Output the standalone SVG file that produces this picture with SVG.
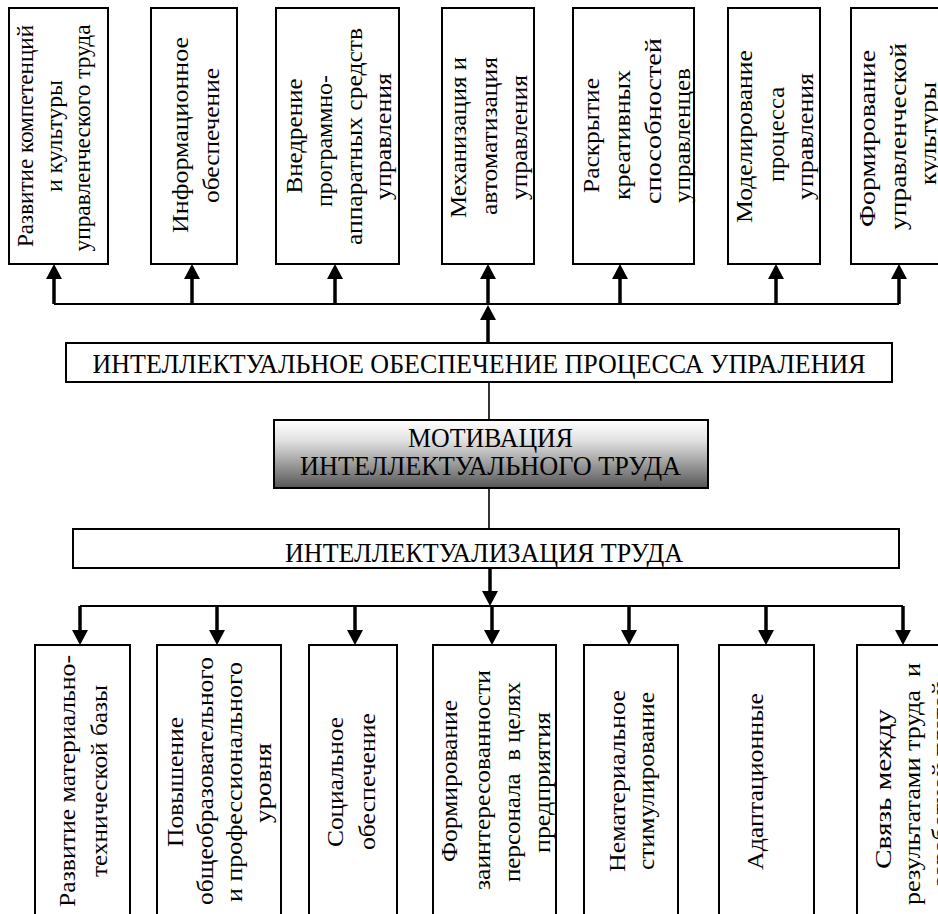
<svg xmlns="http://www.w3.org/2000/svg" width="938" height="914" viewBox="0 0 938 914">
  <style>
    .box { fill: #fff; stroke: #000; stroke-width: 2; }
    .t { font-family: 'Liberation Serif', 'Times New Roman', 'DejaVu Serif', serif; font-size: 24px; fill: #000; text-anchor: middle; }
    .h { font-size: 27px; }
    .bus { stroke: #000; stroke-width: 2; fill: none; }
    .shaft { stroke: #000; stroke-width: 3.5; fill: none; marker-end: url(#arr); }
    .thin { stroke: #000; stroke-width: 1.6; fill: none; }
  </style>
  <defs>
    <marker id="arr" viewBox="0 0 15 16" refX="5" refY="8" markerWidth="15" markerHeight="16" markerUnits="userSpaceOnUse" orient="auto">
      <path d="M0,0 L15,8 L0,16 z" fill="#000"/>
    </marker>
    <linearGradient id="shade" x1="0" y1="0" x2="0" y2="1">
      <stop offset="0" stop-color="#ffffff"/>
      <stop offset="0.3" stop-color="#e2e2e2"/>
      <stop offset="1" stop-color="#555555"/>
    </linearGradient>
  </defs>

  <!-- connectors -->
  <g id="connectors">
    <line class="bus" x1="54" y1="304" x2="899" y2="304"/>
    <line class="shaft" x1="54" y1="304" x2="54" y2="274"/>
    <line class="shaft" x1="192" y1="304" x2="192" y2="274"/>
    <line class="shaft" x1="335" y1="304" x2="335" y2="274"/>
    <line class="shaft" x1="488" y1="304" x2="488" y2="274"/>
    <line class="shaft" x1="620" y1="304" x2="620" y2="274"/>
    <line class="shaft" x1="776" y1="304" x2="776" y2="274"/>
    <line class="shaft" x1="899" y1="304" x2="899" y2="274"/>
    <line class="shaft" x1="488" y1="343" x2="488" y2="315"/>
    <line class="thin" x1="489" y1="382" x2="489" y2="420"/>
    <line class="thin" x1="489" y1="488" x2="489" y2="529"/>
    <line class="shaft" x1="490" y1="568" x2="490" y2="596"/>
    <line class="bus" x1="80" y1="606" x2="903" y2="606"/>
    <line class="shaft" x1="80" y1="606" x2="80" y2="635"/>
    <line class="shaft" x1="217" y1="606" x2="217" y2="635"/>
    <line class="shaft" x1="355" y1="606" x2="355" y2="635"/>
    <line class="shaft" x1="492" y1="606" x2="492" y2="635"/>
    <line class="shaft" x1="629" y1="606" x2="629" y2="635"/>
    <line class="shaft" x1="766" y1="606" x2="766" y2="635"/>
    <line class="shaft" x1="903" y1="606" x2="903" y2="635"/>
  </g>

  <!-- upper row: labels read bottom to top -->
  <g id="top1">
    <rect class="box" x="9" y="8" width="99" height="256"/>
    <text class="t" transform="translate(33,136) rotate(-90)" textLength="222" lengthAdjust="spacingAndGlyphs">Развитие компетенций</text>
    <text class="t" transform="translate(62,136) rotate(-90)" textLength="112" lengthAdjust="spacingAndGlyphs">и культуры</text>
    <text class="t" transform="translate(90,138) rotate(-90)" textLength="227" lengthAdjust="spacingAndGlyphs">управленческого труда</text>
  </g>
  <g id="top2">
    <rect class="box" x="151" y="8" width="86" height="256"/>
    <text class="t" transform="translate(188,135) rotate(-90)" textLength="196" lengthAdjust="spacingAndGlyphs">Информационное</text>
    <text class="t" transform="translate(219,135.5) rotate(-90)" textLength="135" lengthAdjust="spacingAndGlyphs">обеспечение</text>
  </g>
  <g id="top3">
    <rect class="box" x="276" y="8" width="123" height="256"/>
    <text class="t" transform="translate(302,136) rotate(-90)" textLength="115" lengthAdjust="spacingAndGlyphs">Внедрение</text>
    <text class="t" transform="translate(332,141) rotate(-90)" textLength="132" lengthAdjust="spacingAndGlyphs">программно-</text>
    <text class="t" transform="translate(362,136.5) rotate(-90)" textLength="217" lengthAdjust="spacingAndGlyphs">аппаратных средств</text>
    <text class="t" transform="translate(391,136.5) rotate(-90)" textLength="127" lengthAdjust="spacingAndGlyphs">управления</text>
  </g>
  <g id="top4">
    <rect class="box" x="442" y="8" width="92" height="256"/>
    <text class="t" transform="translate(466,137.5) rotate(-90)" textLength="161" lengthAdjust="spacingAndGlyphs">Механизация и</text>
    <text class="t" transform="translate(497,136) rotate(-90)" textLength="158" lengthAdjust="spacingAndGlyphs">автоматизация</text>
    <text class="t" transform="translate(527,137.5) rotate(-90)" textLength="125" lengthAdjust="spacingAndGlyphs">управления</text>
  </g>
  <g id="top5">
    <rect class="box" x="573" y="8" width="121" height="256"/>
    <text class="t" transform="translate(599,135.5) rotate(-90)" textLength="115" lengthAdjust="spacingAndGlyphs">Раскрытие</text>
    <text class="t" transform="translate(630,135) rotate(-90)" textLength="130" lengthAdjust="spacingAndGlyphs">креативных</text>
    <text class="t" transform="translate(661,121) rotate(-90)" textLength="166" lengthAdjust="spacingAndGlyphs">способностей</text>
    <text class="t" transform="translate(690,135.5) rotate(-90)" textLength="135" lengthAdjust="spacingAndGlyphs">управленцев</text>
  </g>
  <g id="top6">
    <rect class="box" x="728" y="8" width="92" height="256"/>
    <text class="t" transform="translate(752,136.5) rotate(-90)" textLength="173" lengthAdjust="spacingAndGlyphs">Моделирование</text>
    <text class="t" transform="translate(784,134.5) rotate(-90)" textLength="95" lengthAdjust="spacingAndGlyphs">процесса</text>
    <text class="t" transform="translate(813,136.5) rotate(-90)" textLength="127" lengthAdjust="spacingAndGlyphs">управления</text>
  </g>
  <g id="top7">
    <rect class="box" x="851" y="8" width="92" height="256"/>
    <text class="t" transform="translate(875,138.5) rotate(-90)" textLength="177" lengthAdjust="spacingAndGlyphs">Формирование</text>
    <text class="t" transform="translate(906,136.5) rotate(-90)" textLength="187" lengthAdjust="spacingAndGlyphs">управленческой</text>
    <text class="t" transform="translate(936,133.5) rotate(-90)" textLength="103" lengthAdjust="spacingAndGlyphs">культуры</text>
  </g>

  <!-- central column -->
  <g id="support">
    <rect class="box" x="66" y="343" width="826" height="39"/>
    <text class="t h" x="479" y="373" textLength="773" lengthAdjust="spacingAndGlyphs">ИНТЕЛЛЕКТУАЛЬНОЕ ОБЕСПЕЧЕНИЕ ПРОЦЕССА УПРАЛЕНИЯ</text>
  </g>
  <g id="motivation">
    <rect x="274" y="420" width="434" height="68" fill="url(#shade)" stroke="#000" stroke-width="2"/>
    <text class="t h" x="490.5" y="447" textLength="165" lengthAdjust="spacingAndGlyphs">МОТИВАЦИЯ</text>
    <text class="t h" x="490.5" y="475" textLength="381" lengthAdjust="spacingAndGlyphs">ИНТЕЛЛЕКТУАЛЬНОГО ТРУДА</text>
  </g>
  <g id="intellectualization">
    <rect class="box" x="73" y="529" width="826" height="39"/>
    <text class="t h" x="484" y="562" textLength="398" lengthAdjust="spacingAndGlyphs">ИНТЕЛЛЕКТУАЛИЗАЦИЯ ТРУДА</text>
  </g>

  <!-- lower row: labels read bottom to top -->
  <g id="bottom1">
    <rect class="box" x="35" y="645" width="95" height="272"/>
    <text class="t" transform="translate(75,781) rotate(-90)" textLength="252" lengthAdjust="spacingAndGlyphs">Развитие материально-</text>
    <text class="t" transform="translate(107,781) rotate(-90)" textLength="192" lengthAdjust="spacingAndGlyphs">технической базы</text>
  </g>
  <g id="bottom2">
    <rect class="box" x="157" y="645" width="124" height="272"/>
    <text class="t" transform="translate(183,782) rotate(-90)" textLength="130" lengthAdjust="spacingAndGlyphs">Повышение</text>
    <text class="t" transform="translate(213,781) rotate(-90)" textLength="248" lengthAdjust="spacingAndGlyphs">общеобразовательного</text>
    <text class="t" transform="translate(242,782) rotate(-90)" textLength="240" lengthAdjust="spacingAndGlyphs">и профессионального</text>
    <text class="t" transform="translate(271,783) rotate(-90)" textLength="80" lengthAdjust="spacingAndGlyphs">уровня</text>
  </g>
  <g id="bottom3">
    <rect class="box" x="309" y="645" width="88" height="272"/>
    <text class="t" transform="translate(343,782) rotate(-90)" textLength="130" lengthAdjust="spacingAndGlyphs">Социальное</text>
    <text class="t" transform="translate(375,781.5) rotate(-90)" textLength="137" lengthAdjust="spacingAndGlyphs">обеспечение</text>
  </g>
  <g id="bottom4">
    <rect class="box" x="433" y="645" width="123" height="272"/>
    <text class="t" transform="translate(457,781) rotate(-90)" textLength="162" lengthAdjust="spacingAndGlyphs">Формирование</text>
    <text class="t" transform="translate(490,780) rotate(-90)" textLength="220" lengthAdjust="spacingAndGlyphs">заинтересованности</text>
    <text class="t" transform="translate(520,782) rotate(-90)" textLength="200" lengthAdjust="spacingAndGlyphs">персонала&#160; в целях</text>
    <text class="t" transform="translate(550,782.5) rotate(-90)" textLength="141" lengthAdjust="spacingAndGlyphs">предприятия</text>
  </g>
  <g id="bottom5">
    <rect class="box" x="584" y="645" width="94" height="272"/>
    <text class="t" transform="translate(625,781) rotate(-90)" textLength="182" lengthAdjust="spacingAndGlyphs">Нематериальное</text>
    <text class="t" transform="translate(654,781) rotate(-90)" textLength="178" lengthAdjust="spacingAndGlyphs">стимулирование</text>
  </g>
  <g id="bottom6">
    <rect class="box" x="719" y="645" width="95" height="272"/>
    <text class="t" transform="translate(763,781.5) rotate(-90)" textLength="177" lengthAdjust="spacingAndGlyphs">Адаптационные</text>
  </g>
  <g id="bottom7">
    <rect class="box" x="857" y="645" width="95" height="272"/>
    <text class="t" transform="translate(891,789) rotate(-90)" textLength="160" lengthAdjust="spacingAndGlyphs">Связь между</text>
    <text class="t" transform="translate(920,784) rotate(-90)" textLength="242" lengthAdjust="spacingAndGlyphs">результатами труда&#160; и</text>
    <text class="t" transform="translate(948,784) rotate(-90)" textLength="205" lengthAdjust="spacingAndGlyphs">заработной платой</text>
  </g>
</svg>
